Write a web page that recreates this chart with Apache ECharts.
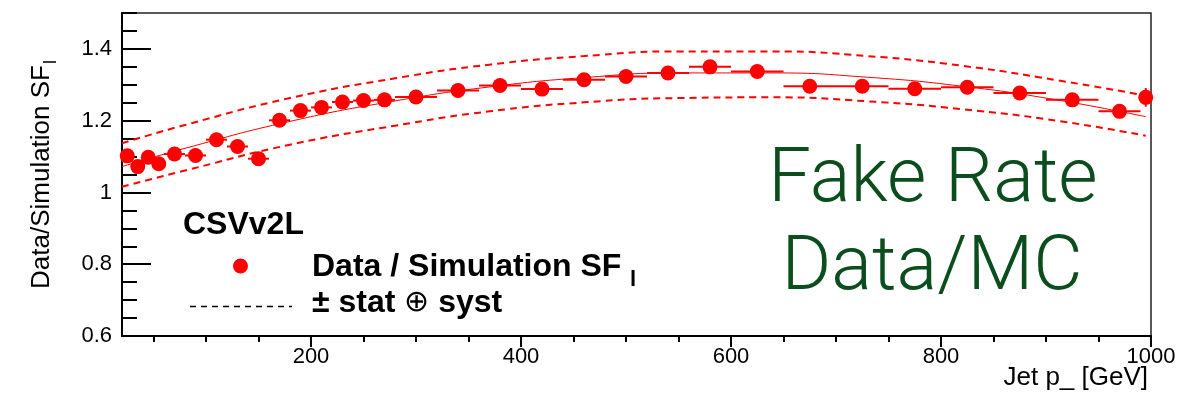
<!DOCTYPE html>
<html>
<head>
<meta charset="utf-8">
<script src="https://cdn.jsdelivr.net/npm/echarts@6/dist/echarts.min.js"></script>
<style>
  html, body { margin: 0; padding: 0; background: #ffffff; }
  #chart { width: 1178px; height: 393px; }
</style>
</head>
<body>
<div id="chart"></div>
<script>
// pT bin edges [GeV] and measured scale factors per bin
const binEdges = [20, 30, 40, 50, 60, 80, 100, 120, 140, 160, 180, 200, 220, 240, 260, 280, 320, 360, 400, 440, 480, 520, 560, 600, 650, 700, 750, 800, 850, 900, 950, 990, 1000];
const binCentres = [25, 35, 45, 55, 70, 90, 110, 130, 150, 170, 190, 210, 230, 250, 270, 300, 340, 380, 420, 460, 500, 540, 580, 625, 675, 725, 775, 825, 875, 925, 970, 995];
const sfValues = [1.102, 1.072, 1.098, 1.080, 1.107, 1.103, 1.147, 1.128, 1.094, 1.201, 1.228, 1.237, 1.252, 1.256, 1.258, 1.266, 1.284, 1.298, 1.288, 1.314, 1.323, 1.333, 1.350, 1.337, 1.296, 1.296, 1.289, 1.293, 1.277, 1.258, 1.226, 1.265];
const sfErrors = [0.008, 0.008, 0.008, 0.008, 0.008, 0.008, 0.008, 0.008, 0.008, 0.008, 0.008, 0.008, 0.008, 0.008, 0.008, 0.009, 0.009, 0.009, 0.010, 0.010, 0.010, 0.011, 0.011, 0.012, 0.012, 0.013, 0.013, 0.014, 0.015, 0.016, 0.017, 0.026];

// fitted scale-factor function and its stat (+) syst envelope
const fitPt = [20, 80, 180, 280, 370, 460, 550, 640, 730, 820, 910, 995];
const fitCentral = [1.072, 1.123, 1.198, 1.255, 1.294, 1.320, 1.333, 1.333, 1.321, 1.296, 1.258, 1.211];
const fitUpper = [1.137, 1.188, 1.263, 1.318, 1.356, 1.380, 1.393, 1.393, 1.380, 1.353, 1.313, 1.270];
const fitLower = [1.016, 1.061, 1.133, 1.186, 1.226, 1.251, 1.263, 1.265, 1.254, 1.232, 1.200, 1.158];

// axis tick values
const xMajorTicks = [200, 400, 600, 800, 1000];
const yMajorTicks = [0.6, 0.8, 1.0, 1.2, 1.4];
const xMinorStep = 50;
const yMinorStep = 0.05;

const xMinorTicks = [];
for (let v = xMinorStep; v <= 1000; v += xMinorStep) xMinorTicks.push(v);
const yMinorTicks = [];
for (let k = 0; k <= 18; k++) yMinorTicks.push(+(0.6 + k * yMinorStep).toFixed(2));

const RED = '#ff0000';
const GREEN = '#0b4d1c';
const FONT = "'Liberation Sans', Arial, Helvetica, sans-serif";

const zip = (xs, ys) => xs.map((x, i) => [x, ys[i]]);
const errorRows = binCentres.map((x, i) => [x, binEdges[i], binEdges[i + 1], sfValues[i], sfErrors[i]]);

const chart = echarts.init(document.getElementById('chart'), null, { renderer: 'canvas' });

chart.setOption({
  animation: false,
  backgroundColor: '#ffffff',
  grid: {
    left: 122, right: 27, top: 13, bottom: 57,
    containLabel: false, outerBoundsMode: 'none',
    show: true, borderColor: '#222222', borderWidth: 1.5, backgroundColor: 'transparent'
  },
  xAxis: [
    {
      type: 'value', min: 20, max: 1000, position: 'bottom',
      axisLine: { show: true, onZero: false, lineStyle: { color: '#000', width: 2 } },
      axisTick: { show: true, inside: false, length: 11, customValues: xMajorTicks, lineStyle: { color: '#000', width: 2 } },
      axisLabel: { show: true, customValues: xMajorTicks, margin: 10, color: '#000', fontSize: 22, fontFamily: FONT,
                   formatter: v => String(v), showMinLabel: true, showMaxLabel: true },
      splitLine: { show: false }
    },
    {
      type: 'value', min: 20, max: 1000, position: 'bottom',
      axisLine: { show: false },
      axisTick: { show: true, inside: false, length: 6, customValues: xMinorTicks, lineStyle: { color: '#000', width: 2 } },
      axisLabel: { show: false },
      splitLine: { show: false }
    }
  ],
  yAxis: [
    {
      type: 'value', min: 0.6, max: 1.5, position: 'left',
      axisLine: { show: true, onZero: false, lineStyle: { color: '#000', width: 2 } },
      axisTick: { show: true, inside: true, length: 29, customValues: yMajorTicks, lineStyle: { color: '#000', width: 2 } },
      axisLabel: { show: true, customValues: yMajorTicks, margin: 10, color: '#000', fontSize: 22, fontFamily: FONT,
                   formatter: v => String(+v.toFixed(1)) },
      splitLine: { show: false },
      name: '{t|Data/Simulation SF}{s|l}',
      nameLocation: 'middle',
      nameGap: 62,
      nameTextStyle: {
        rich: {
          t: { fontFamily: FONT, fontSize: 26, color: '#000', verticalAlign: 'top' },
          s: { fontFamily: FONT, fontSize: 18, color: '#000', verticalAlign: 'top', padding: [13, 0, 0, 1] }
        }
      }
    },
    {
      type: 'value', min: 0.6, max: 1.5, position: 'left',
      axisLine: { show: false },
      axisTick: { show: true, inside: true, length: 15, customValues: yMinorTicks, lineStyle: { color: '#000', width: 2 } },
      axisLabel: { show: false },
      splitLine: { show: false }
    }
  ],
  series: [
    {
      name: 'fit', type: 'line', xAxisIndex: 0, yAxisIndex: 0,
      data: zip(fitPt, fitCentral), smooth: true, showSymbol: false, symbol: 'none',
      lineStyle: { color: RED, width: 1 }, z: 2, silent: true
    },
    {
      name: 'fit up', type: 'line', xAxisIndex: 0, yAxisIndex: 0,
      data: zip(fitPt, fitUpper), smooth: true, showSymbol: false, symbol: 'none',
      lineStyle: { color: RED, width: 2, type: [7, 5] }, z: 2, silent: true
    },
    {
      name: 'fit down', type: 'line', xAxisIndex: 0, yAxisIndex: 0,
      data: zip(fitPt, fitLower), smooth: true, showSymbol: false, symbol: 'none',
      lineStyle: { color: RED, width: 2, type: [7, 5] }, z: 2, silent: true
    },
    {
      name: 'errors', type: 'custom', xAxisIndex: 0, yAxisIndex: 0,
      data: errorRows,
      encode: { x: 0, y: 3 },
      renderItem: function (params, api) {
        const x = api.value(0), lo = api.value(1), hi = api.value(2), y = api.value(3), e = api.value(4);
        const pL = api.coord([lo, y]), pR = api.coord([hi, y]);
        const pB = api.coord([x, y - e]), pT = api.coord([x, y + e]);
        return {
          type: 'group',
          children: [
            { type: 'line', shape: { x1: pL[0], y1: pL[1], x2: pR[0], y2: pR[1] }, style: { stroke: RED, lineWidth: 2 } },
            { type: 'line', shape: { x1: pB[0], y1: pB[1], x2: pT[0], y2: pT[1] }, style: { stroke: RED, lineWidth: 2 } }
          ]
        };
      },
      z: 3, silent: true
    },
    {
      name: 'Data / Simulation SF', type: 'scatter', xAxisIndex: 0, yAxisIndex: 0,
      data: zip(binCentres, sfValues), symbol: 'circle', symbolSize: 15,
      itemStyle: { color: RED, opacity: 1 }, z: 4, silent: true
    }
  ],
  graphic: [
    // x-axis title
    { type: 'text', x: 1148, y: 378, style: { text: 'Jet p_ [GeV]', font: '26px ' + FONT, fill: '#000', textAlign: 'right', textVerticalAlign: 'middle' } },
    // legend block
    { type: 'text', left: 183, top: 209, style: { text: 'CSVv2L', font: 'bold 32px ' + FONT, fill: '#000' } },
    { type: 'circle', shape: { cx: 240.5, cy: 266, r: 7.5 }, style: { fill: RED } },
    { type: 'line', shape: { x1: 190, y1: 306.5, x2: 292, y2: 306.5 }, style: { stroke: '#000', lineWidth: 1.5, lineDash: [6, 5] } },
    { type: 'text', left: 312, top: 251, style: { text: 'Data / Simulation SF', font: 'bold 32px ' + FONT, fill: '#000' } },
    { type: 'text', left: 630, top: 269, style: { text: 'l', font: 'bold 22px ' + FONT, fill: '#000' } },
    {
      type: 'text', left: 312, top: 287,
      style: {
        text: '{b|\u00b1 stat }{o|\u2295}{b| syst}',
        rich: {
          b: { font: 'bold 32px ' + FONT, fill: '#000' },
          o: { font: '30px ' + FONT, fill: '#000' }
        }
      }
    },
    // annotation
    { type: 'text', x: 933, y: 182, style: { text: 'Fake Rate', font: '300 76px Roboto, ' + FONT, fill: GREEN, textAlign: 'center', textVerticalAlign: 'middle' } },
    { type: 'text', x: 932, y: 270, style: { text: 'Data/MC', font: '300 76px Roboto, ' + FONT, fill: GREEN, textAlign: 'center', textVerticalAlign: 'middle' } }
  ]
});
</script>
</body>
</html>
